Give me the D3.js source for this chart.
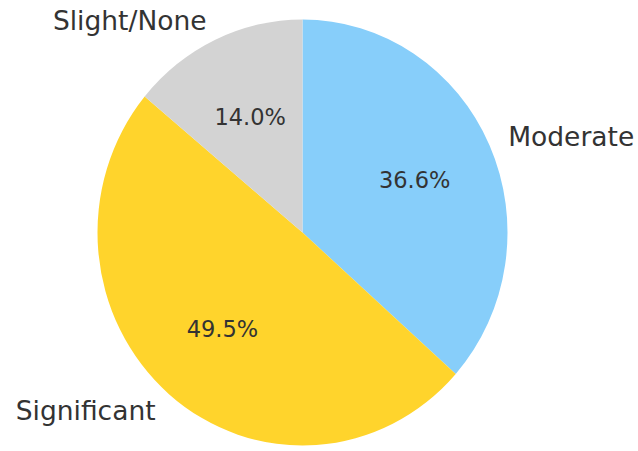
<!DOCTYPE html>
<html>
<head>
<meta charset="utf-8">
<script src="https://cdn.jsdelivr.net/npm/d3@7"></script>
<style>
  html, body { margin: 0; padding: 0; background: #fff; }
  svg { display: block; }
  text { font-family: "DejaVu Sans", sans-serif; fill: #333; }
</style>
</head>
<body>
<svg id="chart" width="638" height="451"></svg>
<script>
// Share of respondents by level of impact
const categories = ["Moderate", "Significant", "Slight/None"];
const shares = [36.6, 49.5, 14.0];
const colors = ["#87cefa", "#ffd42c", "#d3d3d3"];

const width = 638, height = 451;
const cx = 302.5, cy = 232.5;
const rx = 205, ry = 213;

const svg = d3.select("#chart");

const pie = d3.pie().sort(null).value(d => d.value);
const arcs = pie(categories.map((c, i) => ({ name: c, value: shares[i], color: colors[i] })));

const arc = d3.arc().innerRadius(0).outerRadius(rx);

// slices, drawn on a circular arc and stretched vertically
svg.append("g")
  .attr("transform", `translate(${cx},${cy}) scale(1,${ry / rx})`)
  .selectAll("path")
  .data(arcs)
  .join("path")
  .attr("d", arc)
  .attr("fill", d => d.data.color);

const mid = d => (d.startAngle + d.endAngle) / 2;
const px = (d, k) => cx + k * rx * Math.sin(mid(d));
const py = (d, k) => cy - k * ry * Math.cos(mid(d));

// category labels outside the pie
svg.append("g")
  .selectAll("text")
  .data(arcs)
  .join("text")
  .attr("x", d => px(d, 1.1))
  .attr("y", d => py(d, 1.1))
  .attr("text-anchor", d => Math.sin(mid(d)) >= 0 ? "start" : "end")
  .attr("dominant-baseline", "central")
  .attr("font-size", 26.5)
  .text(d => d.data.name);

// percentage labels inside each slice
svg.append("g")
  .selectAll("text")
  .data(arcs)
  .join("text")
  .attr("x", d => px(d, 0.6))
  .attr("y", d => py(d, 0.6))
  .attr("text-anchor", "middle")
  .attr("dominant-baseline", "central")
  .attr("font-size", 22.5)
  .text(d => d.data.value.toFixed(1) + "%");
</script>
</body>
</html>
